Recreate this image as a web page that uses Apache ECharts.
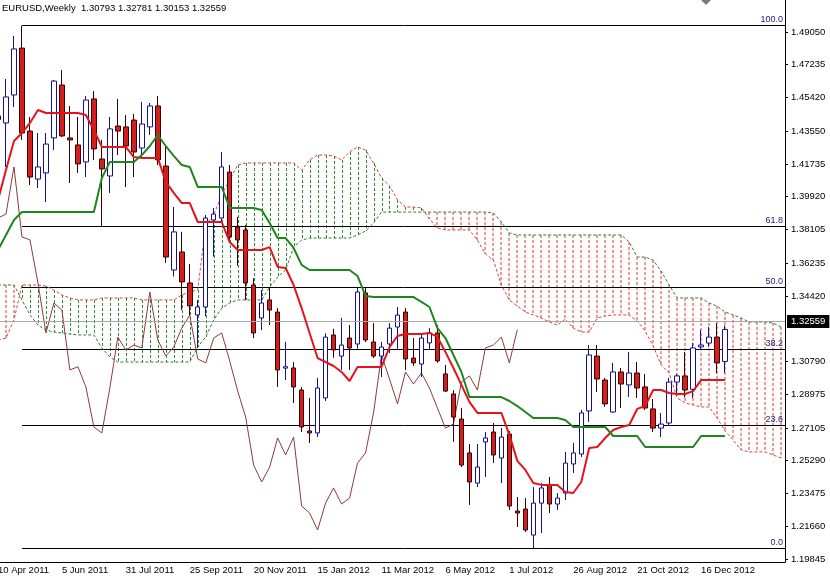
<!DOCTYPE html>
<html>
<head>
<meta charset="utf-8">
<script src="https://cdn.jsdelivr.net/npm/echarts@6.0.0/dist/echarts.min.js"></script>
<style>
html, body { margin: 0; padding: 0; background: #fff; overflow: hidden; }
/* the first weekly bar sits half off the left edge, so the canvas starts 6px early */
#chart { position: relative; left: -6px; width: 836px; height: 579px; }
</style>
</head>
<body>
<div id="chart"></div>
<script>
// EURUSD weekly, 10 Apr 2011 .. 6 Jan 2013 (ichimoku + fibo)
const months = ["Jan", "Feb", "Mar", "Apr", "May", "Jun", "Jul", "Aug", "Sep", "Oct", "Nov", "Dec"];
const weeks = []; // week categories, the cloud runs 7 weeks past the last bar
const firstWeek = Date.UTC(2011, 3, 10);
for (let i = 0; i < 99; i++) {
    const d = new Date(firstWeek + i * 7 * 86400000);
    weeks.push(d.getUTCDate() + " " + months[d.getUTCMonth()] + " " + d.getUTCFullYear());
}
const xTickLabels = ["10 Apr 2011", "5 Jun 2011", "31 Jul 2011", "25 Sep 2011", "20 Nov 2011", "15 Jan 2012",
    "11 Mar 2012", "6 May 2012", "1 Jul 2012", "26 Aug 2012", "21 Oct 2012", "16 Dec 2012"];
const yTicks = [1.49050, 1.47235, 1.45420, 1.43550, 1.41735, 1.39920, 1.38105, 1.36235, 1.34420,
    1.30790, 1.28975, 1.27105, 1.25290, 1.23475, 1.21660, 1.19845];

const opens = [1.4440,1.4401,1.4556,1.4816,1.4356,1.4090,1.4124,1.4318,1.4611,1.4318,
    1.4279,1.4185,1.4534,1.4201,1.4107,1.4384,1.4379,1.4417,1.4262,1.4379,
    1.4495,1.4162,1.3586,1.3686,1.3514,1.3337,1.3381,1.3863,1.3874,1.4129,
    1.3824,1.3808,1.3503,1.3320,1.3420,1.3353,1.3042,1.3043,1.2921,1.2694,
    1.2683,1.2877,1.3226,1.3109,1.3209,1.3176,1.3459,1.3187,1.3109,1.3176,
    1.3270,1.3353,1.3098,1.3065,1.3182,1.3237,1.3010,1.2899,1.2760,1.2572,
    1.2405,1.2633,1.2688,1.2544,1.2677,1.2250,1.2261,1.2117,1.2294,1.2394,
    1.2289,1.2350,1.2511,1.2566,1.2805,1.3109,1.2976,1.2799,1.3021,1.2949,
    1.3015,1.2938,1.2816,1.2710,1.2738,1.2965,1.2999,1.2925,1.3160,1.3181,
    1.3214,1.30793];
const closes = [1.4420,1.4545,1.4811,1.4345,1.4101,1.4157,1.4284,1.4633,1.4329,1.4307,
    1.4174,1.4528,1.4257,1.4146,1.4368,1.4356,1.4273,1.4240,1.4395,1.4495,
    1.4196,1.3658,1.3797,1.3520,1.3387,1.3381,1.3874,1.3896,1.4157,1.3769,
    1.3753,1.3514,1.3237,1.3403,1.3364,1.3032,1.3050,1.2938,1.2716,1.2683,
    1.2932,1.3214,1.3143,1.3170,1.3154,1.3464,1.3198,1.3109,1.3159,1.3264,
    1.3336,1.3093,1.3071,1.3209,1.3237,1.3082,1.2915,1.2771,1.2505,1.2411,
    1.2494,1.2655,1.2561,1.2660,1.2278,1.2239,1.2145,1.2294,1.2378,1.2289,
    1.2322,1.2516,1.2572,1.2794,1.3115,1.2982,1.2844,1.3021,1.2954,1.3015,
    1.2932,1.2821,1.2710,1.2732,1.2965,1.2999,1.2921,1.3154,1.3170,1.3214,
    1.3071,1.32559];
const lows = [1.4360,1.4157,1.4489,1.4307,1.4057,1.4040,1.3963,1.4251,1.4323,1.4068,
    1.4124,1.4101,1.4196,1.3830,1.4013,1.4223,1.4046,1.4101,1.4212,1.4334,
    1.4168,1.3625,1.3550,1.3364,1.3337,1.3154,1.3330,1.3660,1.3850,1.3753,
    1.3610,1.3420,1.3209,1.3253,1.3281,1.2938,1.2976,1.2849,1.2688,1.2627,
    1.2660,1.2860,1.3100,1.3032,1.3032,1.3150,1.3187,1.3098,1.2993,1.3126,
    1.3143,1.3032,1.3054,1.2993,1.3143,1.3071,1.2910,1.2634,1.2494,1.2284,
    1.2383,1.2439,1.2517,1.2405,1.2256,1.2162,1.2134,1.2045,1.2128,1.2239,
    1.2256,1.2311,1.2461,1.2550,1.2744,1.2910,1.2827,1.2794,1.2821,1.2882,
    1.2877,1.2810,1.2688,1.2660,1.2727,1.2893,1.2880,1.2877,1.3143,1.3160,
    1.3015,1.30153];
const highs = [1.4490,1.4645,1.4883,1.4940,1.4434,1.4345,1.4345,1.4639,1.4694,1.4495,
    1.4434,1.4550,1.4578,1.4307,1.4434,1.4534,1.4445,1.4451,1.4517,1.4512,
    1.4550,1.4268,1.3935,1.3797,1.3620,1.3420,1.3891,1.3930,1.4240,1.4168,
    1.3880,1.3836,1.3540,1.3475,1.3486,1.3375,1.3187,1.3076,1.2938,1.2877,
    1.2988,1.3235,1.3260,1.3320,1.3281,1.3492,1.3486,1.3292,1.3187,1.3292,
    1.3381,1.3375,1.3209,1.3226,1.3264,1.3281,1.3060,1.2920,1.2822,1.2622,
    1.2622,1.2688,1.2738,1.2710,1.2693,1.2328,1.2322,1.2383,1.2405,1.2439,
    1.2350,1.2578,1.2628,1.2810,1.3170,1.3170,1.2988,1.3071,1.3043,1.3132,
    1.3076,1.3010,1.2871,1.2793,1.2988,1.3010,1.3132,1.3181,1.3253,1.3270,
    1.3292,1.32781];

// tenkan-sen (red) and kijun-sen (green)
const tenkan = [1.3974,1.4140,1.4301,1.4345,1.4401,1.4473,1.4456,1.4456,1.4456,1.4456,
    1.4456,1.4445,1.4362,1.4268,1.4268,1.4268,1.4268,1.4212,1.4207,1.4207,
    1.4207,1.4074,1.4013,1.3957,1.3957,1.3852,1.3852,1.3852,1.3852,1.3741,
    1.3697,1.3697,1.3697,1.3697,1.3713,1.3603,1.3597,1.3503,1.3375,1.3237,
    1.3098,1.3076,1.3054,1.3021,1.2971,1.3049,1.3049,1.3049,1.3049,1.3159,
    1.3220,1.3231,1.3231,1.3231,1.3237,1.3215,1.3132,1.3043,1.2949,1.2855,
    1.2794,1.2794,1.2794,1.2794,1.2672,1.2528,1.2478,1.2406,1.2395,1.2395,
    1.2395,1.2356,1.2350,1.2411,1.2600,1.2605,1.2655,1.2699,1.2716,1.2727,
    1.2816,1.2832,1.2921,1.2921,1.2904,1.2899,1.2899,1.2915,1.2976,1.2976,
    1.2976,1.2976];
const kijun = [1.3697,1.3780,1.3863,1.3907,1.3907,1.3907,1.3907,1.3907,1.3907,1.3907,
    1.3907,1.3907,1.3907,1.4096,1.4185,1.4185,1.4185,1.4185,1.4223,1.4273,
    1.4334,1.4273,1.4218,1.4168,1.4157,1.4046,1.4046,1.4046,1.4046,1.3930,
    1.3930,1.3930,1.3930,1.3919,1.3846,1.3763,1.3763,1.3708,1.3614,1.3586,
    1.3586,1.3586,1.3586,1.3586,1.3586,1.3553,1.3442,1.3436,1.3436,1.3436,
    1.3436,1.3436,1.3436,1.3409,1.3381,1.3264,1.3209,1.3115,1.3021,1.2882,
    1.2882,1.2882,1.2882,1.2882,1.2860,1.2832,1.2799,1.2766,1.2766,1.2766,
    1.2766,1.2755,1.2716,1.2716,1.2716,1.2716,1.2716,1.2666,1.2666,1.2666,
    1.2666,1.2605,1.2605,1.2605,1.2605,1.2605,1.2605,1.2605,1.2666,1.2666,
    1.2666,1.2666];

// senkou spans (cloud edges), already shifted forward
const spanA = [1.3503,1.3503,1.3503,1.3420,1.3337,1.3281,1.3253,1.3242,1.3237,1.3231,
    1.3226,1.3226,1.3226,1.3154,1.3104,1.3076,1.3076,1.3076,1.3076,1.3076,
    1.3076,1.3076,1.3076,1.3076,1.3076,1.3159,1.3215,1.3309,1.3375,1.3403,
    1.3420,1.3420,1.3420,1.3420,1.3492,1.3547,1.3586,1.3713,1.3752,1.3763,
    1.3763,1.3763,1.3763,1.3763,1.3763,1.3780,1.3802,1.3846,1.3907,1.3907,
    1.3907,1.3907,1.3907,1.3907,1.3907,1.3907,1.3907,1.3907,1.3907,1.3907,
    1.3907,1.3907,1.3902,1.3852,1.3791,1.3780,1.3780,1.3780,1.3780,1.3780,
    1.3780,1.3780,1.3780,1.3780,1.3780,1.3780,1.3780,1.3780,1.3780,1.3741,
    1.3658,1.3658,1.3641,1.3580,1.3503,1.3431,1.3431,1.3431,1.3431,1.3403,
    1.3386,1.3353,1.3337,1.3320,1.3298,1.3298,1.3298,1.3292,1.3270];
const spanB = [1.3198,1.3209,1.3309,1.3503,1.3503,1.3503,1.3497,1.3475,1.3447,1.3431,
    1.3420,1.3420,1.3420,1.3431,1.3431,1.3431,1.3431,1.3431,1.3420,1.3420,
    1.3420,1.3420,1.3420,1.3447,1.3464,1.3475,1.3835,1.3891,1.4002,1.4085,
    1.4168,1.4179,1.4179,1.4179,1.4179,1.4179,1.4179,1.4179,1.4140,1.4196,
    1.4223,1.4223,1.4218,1.4196,1.4240,1.4268,1.4251,1.4179,1.4096,1.4052,
    1.3974,1.3935,1.3935,1.3930,1.3869,1.3819,1.3808,1.3808,1.3808,1.3808,
    1.3752,1.3675,1.3641,1.3503,1.3420,1.3386,1.3353,1.3337,1.3320,1.3298,
    1.3281,1.3314,1.3264,1.3242,1.3242,1.3320,1.3331,1.3337,1.3337,1.3337,
    1.3303,1.3248,1.3165,1.3060,1.3015,1.2877,1.2849,1.2838,1.2827,1.2827,
    1.2766,1.2694,1.2644,1.2589,1.2578,1.2578,1.2578,1.2561,1.2544];

// chikou span = closes plotted 26 weeks back
const chikou = closes.slice(26);

// fibo retracement drawn from the May 2011 high
const fibPrices = [1.4944, 1.3830, 1.3492, 1.3148, 1.2727, 1.2045];
const fibLabels = ["100.0", "61.8", "50.0", "38.2", "23.6", "0.0"];
const fibStart = 3;
const lastPrice = 1.32559;

const chart = echarts.init(document.getElementById("chart"));
const font = "Liberation Sans";
const showTick = (idx, val) => xTickLabels.indexOf(val) >= 0;
const upKumo = "#2f8a2f";
const downKumo = "#e03434";

const option = {
    animation: false,
    title: {
        text: "EURUSD,Weekly  1.30793 1.32781 1.30153 1.32559",
        left: 8,
        top: 3,
        padding: 0,
        textStyle: { fontSize: 9.5, fontWeight: "normal", color: "#000", fontFamily: font },
    },
    graphic: [
        {
            // chart shift marker
            type: "polygon",
            silent: true,
            shape: { points: [[707, 0], [717, 0], [712, 5]] },
            style: { fill: "#7a7a7a" },
        },
    ],
    grid: { left: 0, right: 45, top: 0, bottom: 17 },
    xAxis: {
        type: "category",
        data: weeks,
        boundaryGap: true,
        axisLine: { lineStyle: { color: "#000", width: 1 } },
        axisTick: { interval: showTick, alignWithLabel: true, length: 4, lineStyle: { color: "#000" } },
        axisLabel: { interval: showTick, align: "left", margin: 3, fontSize: 9.5, color: "#000", fontFamily: font },
        splitLine: { show: false },
    },
    yAxis: {
        type: "value",
        position: "right",
        min: 1.19677,
        max: 1.50823,
        axisLine: { show: true, lineStyle: { color: "#000" } },
        axisTick: { show: true, customValues: yTicks, length: 3, lineStyle: { color: "#000" } },
        axisLabel: {
            customValues: yTicks,
            formatter: (v) => v.toFixed(5),
            margin: 6,
            fontSize: 9.5,
            color: "#000",
            fontFamily: font,
        },
        splitLine: { show: false },
    },
    series: [
        {
            // kumo hatching, one dashed stroke per week
            type: "custom",
            silent: true,
            z: 1,
            data: spanA.map((a, i) => [i, a, spanB[i]]),
            encode: { x: 0, y: [1, 2] },
            renderItem: (params, api) => {
                const a = api.value(1);
                const b = api.value(2);
                const up = b > a;
                const top = api.coord([api.value(0), Math.max(a, b)]);
                const bottom = api.coord([api.value(0), Math.min(a, b)]);
                // the red hatch is softer in the original, let it spread over two pixels
                const x = Math.round(top[0]) + (up ? 0.5 : 0);
                return {
                    type: "line",
                    shape: { x1: x, y1: top[1], x2: x, y2: bottom[1] },
                    style: { stroke: up ? upKumo : downKumo, lineWidth: 1, lineDash: [3, 2] },
                };
            },
        },
        {
            // fibo levels
            type: "custom",
            silent: true,
            z: 2,
            data: fibPrices.map((p) => [fibStart, p]),
            encode: { x: 0, y: 1 },
            renderItem: (params, api) => {
                const p = api.coord([api.value(0), api.value(1)]);
                const right = params.coordSys.x + params.coordSys.width;
                const y = Math.round(p[1]) + 0.5;
                return {
                    type: "group",
                    children: [
                        { type: "line", shape: { x1: p[0], y1: y, x2: right, y2: y }, style: { stroke: "#000", lineWidth: 1 } },
                        {
                            type: "text",
                            style: {
                                text: fibLabels[params.dataIndex],
                                x: right - 2,
                                y: y - 1,
                                align: "right",
                                verticalAlign: "bottom",
                                fill: "#1a1a80",
                                font: "9px " + font,
                            },
                        },
                    ],
                };
            },
        },
        {
            name: "Senkou A",
            type: "line",
            data: spanA,
            symbol: "none",
            z: 2,
            lineStyle: { color: "#2f7d2f", width: 1, type: [3, 2] },
        },
        {
            name: "Senkou B",
            type: "line",
            data: spanB,
            symbol: "none",
            z: 2,
            lineStyle: { color: "#d04444", width: 1, type: [3, 2] },
        },
        {
            name: "Chikou",
            type: "line",
            data: chikou,
            symbol: "none",
            z: 3,
            lineStyle: { color: "#8b3a3a", width: 1 },
        },
        {
            name: "EURUSD",
            type: "candlestick",
            data: opens.map((o, i) => [o, closes[i], lows[i], highs[i]]),
            barWidth: 5,
            z: 4,
            itemStyle: {
                color: "#ffffff",
                color0: "#d41f1f",
                borderColor: "#12128c",
                borderColor0: "#3a0000",
                borderWidth: 1,
            },
            markLine: {
                silent: true,
                symbol: "none",
                data: [{ yAxis: lastPrice }],
                lineStyle: { color: "#a8a8a8", type: "solid", width: 1 },
                label: {
                    position: "end",
                    formatter: lastPrice.toFixed(5),
                    backgroundColor: "#000",
                    color: "#fff",
                    padding: [2, 4, 1, 4],
                    distance: 2,
                    fontSize: 9.5,
                    fontFamily: font,
                },
            },
        },
        {
            name: "Tenkan",
            type: "line",
            data: tenkan,
            symbol: "none",
            z: 5,
            lineStyle: { color: "#e3141b", width: 2 },
        },
        {
            name: "Kijun",
            type: "line",
            data: kijun,
            symbol: "none",
            z: 5,
            lineStyle: { color: "#1e861e", width: 2 },
        },
    ],
};
chart.setOption(option);
</script>
</body>
</html>
